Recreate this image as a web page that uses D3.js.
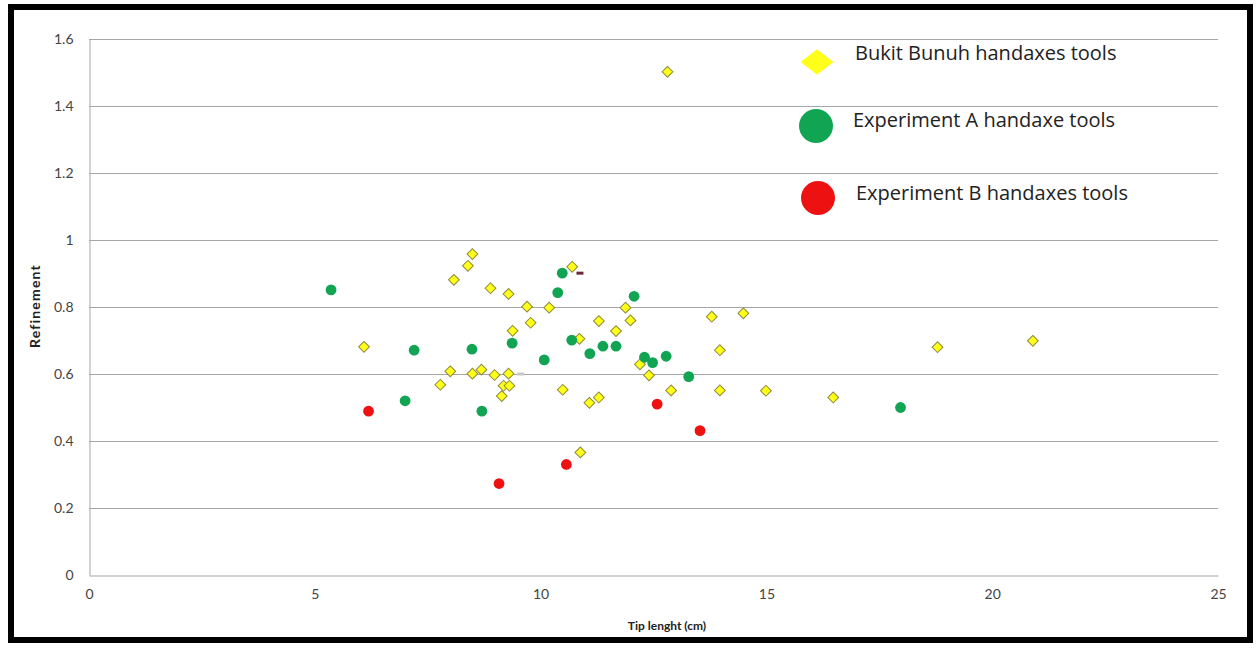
<!DOCTYPE html>
<html>
<head>
<meta charset="utf-8">
<script src="https://cdn.jsdelivr.net/npm/d3@7"></script>
<style>
  html, body { margin: 0; padding: 0; background: #fff; }
  svg { display: block; }
  text { font-family: Lato, "Open Sans", sans-serif; }
</style>
</head>
<body>
<svg id="chart" width="1257" height="650"></svg>
<script>
// Bukit Bunuh handaxes (yellow diamonds)
var bukitX = [12.81, 8.49, 8.39, 10.70, 8.08, 8.89, 9.29, 9.70, 10.19, 11.88,
              9.78, 9.38, 11.29, 11.99, 11.67, 10.86, 13.79, 14.49, 13.97, 6.09,
              18.79, 20.90, 12.20, 12.40, 8.00, 8.49, 8.69, 8.98, 9.29, 7.78,
              9.18, 9.31, 9.14, 10.49, 12.89, 13.97, 14.99, 16.48, 11.08, 11.29,
              10.88];
var bukitY = [1.502, 0.958, 0.923, 0.920, 0.881, 0.856, 0.839, 0.801, 0.798, 0.798,
              0.753, 0.729, 0.758, 0.760, 0.728, 0.705, 0.771, 0.781, 0.671, 0.681,
              0.680, 0.699, 0.629, 0.596, 0.608, 0.601, 0.613, 0.597, 0.601, 0.568,
              0.565, 0.565, 0.534, 0.553, 0.551, 0.551, 0.550, 0.530, 0.514, 0.530,
              0.366];

// Experiment A (green circles)
var expAX = [5.36, 7.20, 8.48, 9.37, 7.00, 8.70, 10.48, 10.38, 12.07, 10.69,
             10.08, 11.09, 11.38, 11.67, 12.30, 12.48, 12.78, 13.28, 17.97];
var expAY = [0.851, 0.671, 0.674, 0.692, 0.520, 0.489, 0.901, 0.843, 0.832, 0.701,
             0.642, 0.661, 0.683, 0.683, 0.650, 0.634, 0.653, 0.592, 0.500];

// Experiment B (red circles)
var expBX = [6.19, 9.08, 10.57, 12.58, 13.53];
var expBY = [0.489, 0.273, 0.330, 0.510, 0.431];

// stray dash markers visible in the original
var strayX = [10.86, 9.55];
var strayY = [0.901, 0.600];
var strayColor = ['#6b2838', '#c8c8c8'];

var xTicks = [0, 5, 10, 15, 20, 25];
var yTicks = [0, 0.2, 0.4, 0.6, 0.8, 1, 1.2, 1.4, 1.6];

var legendNames = ['Bukit Bunuh handaxes tools', 'Experiment A handaxe tools', 'Experiment B handaxes tools'];

var yellow = '#ffff1a', green = '#11a453', red = '#ee1111';

var svg = d3.select('#chart');

// outer frame
svg.append('rect')
    .attr('x', 11).attr('y', 7)
    .attr('width', 1239).attr('height', 633)
    .attr('fill', '#fff')
    .attr('stroke', '#000')
    .attr('stroke-width', 6);

var x = d3.scaleLinear().domain([0, 25]).range([89, 1218]);
var y = d3.scaleLinear().domain([0, 1.6]).range([575, 39]);

// gridlines
svg.append('g')
    .selectAll('line')
    .data(yTicks.slice(1))
    .enter()
    .append('line')
    .attr('x1', x(0)).attr('x2', x(25))
    .attr('y1', function (d) { return y(d) + 0.5; })
    .attr('y2', function (d) { return y(d) + 0.5; })
    .attr('stroke', '#a6a6a6')
    .attr('stroke-width', 1);

// Y axis
var yAxis = svg.append('g')
    .attr('transform', 'translate(' + (x(0) + 0.5) + ',0)')
    .call(d3.axisLeft(y).tickValues(yTicks).tickSize(0).tickPadding(16)
        .tickFormat(function (d) { return String(+d.toFixed(1)); }));
yAxis.select('.domain').attr('stroke', '#a6a6a6');
yAxis.selectAll('text')
    .attr('fill', '#444')
    .style('font-size', '14px');

// X axis
var xAxis = svg.append('g')
    .attr('transform', 'translate(0,' + (y(0) + 0.5) + ')')
    .call(d3.axisBottom(x).tickValues(xTicks).tickSize(0).tickPadding(14));
xAxis.select('.domain').attr('stroke', '#a6a6a6');
xAxis.selectAll('text')
    .attr('fill', '#444')
    .style('font-size', '14px');

// axis titles
svg.append('text')
    .attr('x', 667).attr('y', 630)
    .attr('text-anchor', 'middle')
    .style('font-size', '12px')
    .style('font-weight', 'bold')
    .attr('fill', '#222')
    .text('Tip lenght (cm)');

svg.append('text')
    .attr('transform', 'translate(40,306) rotate(-90)')
    .attr('text-anchor', 'middle')
    .style('font-size', '14px')
    .style('font-weight', 'bold')
    .style('letter-spacing', '1.2px')
    .attr('fill', '#222')
    .text('Refinement');

var diamond = d3.symbol().type(d3.symbolSquare).size(58);

// Bukit Bunuh points
svg.append('g')
    .selectAll('path')
    .data(bukitX)
    .enter()
    .append('path')
    .attr('d', diamond)
    .attr('transform', function (d, i) {
        return 'translate(' + x(d) + ',' + y(bukitY[i]) + ') rotate(45)';
    })
    .attr('fill', yellow)
    .attr('stroke', '#8f8a3a')
    .attr('stroke-width', 1);

// Experiment A points
svg.append('g')
    .selectAll('circle')
    .data(expAX)
    .enter()
    .append('circle')
    .attr('cx', function (d) { return x(d); })
    .attr('cy', function (d, i) { return y(expAY[i]); })
    .attr('r', 5.4)
    .attr('fill', green);

// Experiment B points
svg.append('g')
    .selectAll('circle')
    .data(expBX)
    .enter()
    .append('circle')
    .attr('cx', function (d) { return x(d); })
    .attr('cy', function (d, i) { return y(expBY[i]); })
    .attr('r', 5.4)
    .attr('fill', red);

// stray dashes
svg.append('g')
    .selectAll('rect')
    .data(strayX)
    .enter()
    .append('rect')
    .attr('x', function (d) { return x(d) - 3; })
    .attr('y', function (d, i) { return y(strayY[i]) - 1.5; })
    .attr('width', 7)
    .attr('height', 3)
    .attr('fill', function (d, i) { return strayColor[i]; });

// legend
var legend = svg.append('g').attr('class', 'legend');
var legendY = [62, 126, 198];

legend.append('path')
    .attr('d', d3.symbol().type(d3.symbolSquare).size(320))
    .attr('transform', 'translate(817,' + legendY[0] + ') scale(1.3,1) rotate(45)')
    .attr('fill', yellow);

legend.append('circle')
    .attr('cx', 816).attr('cy', legendY[1]).attr('r', 17)
    .attr('fill', green);

legend.append('circle')
    .attr('cx', 818).attr('cy', legendY[2]).attr('r', 17)
    .attr('fill', red);

legend.selectAll('text')
    .data(legendNames)
    .enter()
    .append('text')
    .attr('x', function (d, i) { return [855, 853, 856][i]; })
    .attr('y', function (d, i) { return [60, 127, 200][i]; })
    .style('font-family', '"Open Sans", sans-serif')
    .style('font-size', '20px')
    .attr('fill', '#222')
    .text(function (d) { return d; });
</script>
</body>
</html>
